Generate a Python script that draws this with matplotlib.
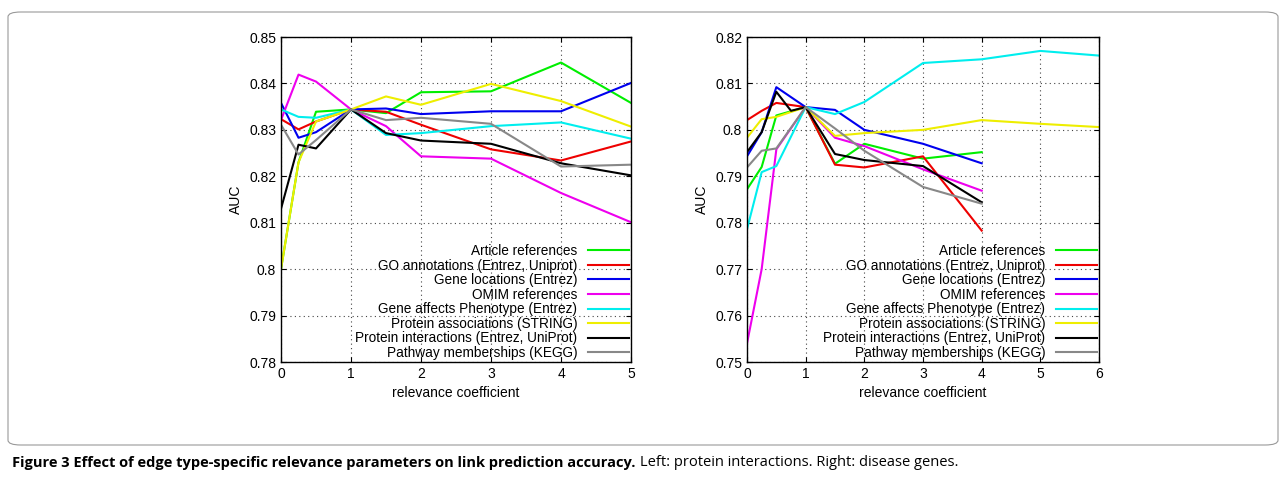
import matplotlib
matplotlib.use("Agg")
import matplotlib.pyplot as plt
from matplotlib.patches import FancyBboxPatch

plt.rcParams['font.family'] = ['Liberation Sans', 'DejaVu Sans']

labels = ["Article references", "GO annotations (Entrez, Uniprot)", "Gene locations (Entrez)",
          "OMIM references", "Gene affects Phenotype (Entrez)", "Protein associations (STRING)",
          "Protein interactions (Entrez, UniProt)", "Pathway memberships (KEGG)"]
colors = ["#00ee00", "#ee0000", "#0000ee", "#ee00ee", "#00eeee", "#eeee00", "#000000", "#888888"]

xl = [0, 0.25, 0.5, 1, 1.5, 2, 3, 4, 5]
left = [
    [0.800, 0.823, 0.8339, 0.8344, 0.8336, 0.8381, 0.8383, 0.8445, 0.8358],
    [0.8323, 0.8301, 0.8318, 0.8344, 0.8339, 0.8311, 0.8258, 0.8234, 0.8275],
    [0.8358, 0.8283, 0.8295, 0.8344, 0.8346, 0.8334, 0.8340, 0.8340, 0.8401],
    [0.8321, 0.8419, 0.8404, 0.8344, 0.8308, 0.8243, 0.8238, 0.8164, 0.8101],
    [0.8344, 0.8328, 0.8326, 0.8344, 0.8289, 0.8293, 0.8308, 0.8316, 0.8281],
    [0.800, 0.823, 0.8318, 0.8344, 0.8372, 0.8354, 0.8399, 0.8362, 0.8307],
    [0.8130, 0.8268, 0.8260, 0.8344, 0.8293, 0.8277, 0.8270, 0.8228, 0.8202],
    [0.8311, 0.8247, 0.8278, 0.8344, 0.8321, 0.8326, 0.8313, 0.8221, 0.8225],
]

xr_short = [0, 0.25, 0.5, 1, 1.5, 2, 3, 4]
xr_long = [0, 0.25, 0.5, 1, 1.5, 2, 3, 4, 5, 6]
xr_black = [0, 0.25, 0.5, 0.75, 1, 1.5, 2, 3, 4]
right_x = [xr_short, xr_short, xr_short, xr_short, xr_long, xr_long, xr_black, xr_short]
right = [
    [0.7872, 0.7920, 0.8031, 0.8049, 0.7927, 0.7970, 0.7938, 0.7952],
    [0.8021, 0.8041, 0.8058, 0.8049, 0.7925, 0.7919, 0.7943, 0.7783],
    [0.7943, 0.7995, 0.8092, 0.8049, 0.8043, 0.8000, 0.7970, 0.7928],
    [0.7540, 0.7700, 0.7958, 0.8049, 0.7983, 0.7965, 0.7915, 0.7869],
    [0.7786, 0.7909, 0.7922, 0.8049, 0.8034, 0.8060, 0.8144, 0.8152, 0.8170, 0.8160],
    [0.7983, 0.8023, 0.8028, 0.8049, 0.7987, 0.7993, 0.8000, 0.8021, 0.8013, 0.8006],
    [0.7952, 0.7995, 0.8082, 0.8041, 0.8049, 0.7948, 0.7935, 0.7922, 0.7844],
    [0.7919, 0.7955, 0.7960, 0.8049, 0.8003, 0.7955, 0.7877, 0.7841],
]

fig = plt.figure(figsize=(12.86, 4.83), dpi=100)
fig.patches.append(FancyBboxPatch((8/1286, 38/483), 1270/1286, 433/483,
                                  boxstyle="round,pad=0,rounding_size=0.01",
                                  transform=fig.transFigure, fill=False,
                                  edgecolor="#999999", linewidth=0.8))

def setup(ax, xlim, ylim, yticks, ylabels, xticks):
    ax.set_xlim(*xlim); ax.set_ylim(*ylim)
    ax.set_xticks(xticks); ax.set_yticks(yticks)
    ax.set_yticklabels(ylabels)
    ax.grid(True, linestyle=(0, (1, 3)), color="#444444", linewidth=0.8)
    ax.tick_params(direction="in", top=True, right=True, labelsize=10)
    for s in ax.spines.values():
        s.set_linewidth(1.0)
    ax.set_xlabel("relevance coefficient", fontsize=10)
    ax.set_ylabel("AUC", fontsize=10)
    ax.legend(loc="lower right", frameon=False, markerfirst=False, fontsize=9.8,
              handlelength=3, labelspacing=0.04, borderaxespad=0.0, handletextpad=0.8,
              borderpad=0.15)

ax1 = fig.add_axes([281/1286, 121/483, 350/1286, 325/483])
for y, c, l in zip(left, colors, labels):
    ax1.plot(xl, y, color=c, lw=1.5, label=l)
yt1 = [0.78, 0.79, 0.80, 0.81, 0.82, 0.83, 0.84, 0.85]
setup(ax1, (0, 5), (0.78, 0.85), yt1, ["0.78", "0.79", "0.8", "0.81", "0.82", "0.83", "0.84", "0.85"], range(6))

ax2 = fig.add_axes([747/1286, 121/483, 352/1286, 325/483])
for x, y, c, l in zip(right_x, right, colors, labels):
    ax2.plot(x, y, color=c, lw=1.5, label=l)
yt2 = [0.75, 0.76, 0.77, 0.78, 0.79, 0.80, 0.81, 0.82]
setup(ax2, (0, 6), (0.75, 0.82), yt2, ["0.75", "0.76", "0.77", "0.78", "0.79", "0.8", "0.81", "0.82"], range(7))

t1 = fig.text(12/1286, 20/483, "Figure 3 Effect of edge type-specific relevance parameters on link prediction accuracy.",
              fontsize=10.5, fontweight="bold", family="Open Sans", va="center")
fig.canvas.draw()
bb = t1.get_window_extent()
fig.text((bb.x1 + 5)/1286, 20/483, "Left: protein interactions. Right: disease genes.",
         fontsize=10.5, family="Open Sans", va="center")
fig.savefig("out.png", dpi=100)
